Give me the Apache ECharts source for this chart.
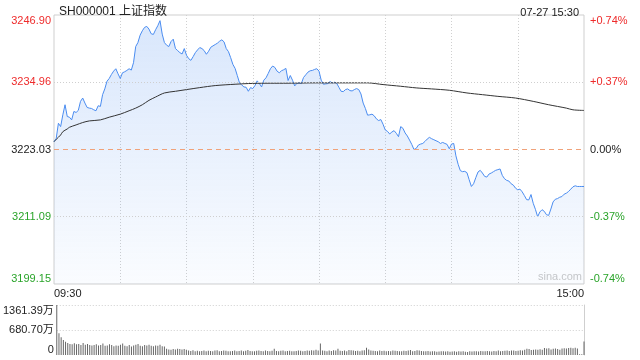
<!DOCTYPE html>
<html><head><meta charset="utf-8">
<script src="https://cdn.jsdelivr.net/npm/echarts@6/dist/echarts.min.js"></script>
<style>html,body{margin:0;padding:0;background:#fff}#c{width:640px;height:360px}</style>
</head><body><div id="c"></div>
<script>
const titleText = 'SH000001 上证指数';
const dateText = '07-27 15:30';
const prevClose = 3223.03;
const priceTicks = [3199.15, 3211.09, 3223.03, 3234.96, 3246.90];
const volTicks = [0, 680.70, 1361.39];
// minute categories 09:30-11:30, 13:01-15:00
const times = [];
(function(){
  function f(m){const h=Math.floor(m/60),mm=m%60;return (h<10?'0':'')+h+':'+(mm<10?'0':'')+mm;}
  for(let m=570;m<=690;m++) times.push(f(m));
  for(let m=781;m<=900;m++) times.push(f(m));
})();
const prices = [
3224.40,3225.00,3227.69,3227.09,3229.18,3230.97,3228.88,3228.76,3228.28,3229.78,
3229.60,3229.96,3231.57,3232.16,3231.27,3230.49,3230.37,3230.31,3230.07,3229.90,
3230.79,3230.67,3232.76,3233.78,3235.15,3235.63,3236.34,3236.94,3237.36,3236.46,
3235.63,3236.64,3236.82,3237.06,3237.36,3237.12,3238.43,3241.30,3242.01,3243.33,
3244.10,3244.70,3244.88,3244.40,3243.57,3243.45,3244.28,3245.00,3245.90,3243.51,
3242.01,3241.54,3241.30,3242.19,3242.61,3240.94,3240.58,3240.22,3239.98,3240.94,
3239.75,3239.15,3238.85,3239.51,3240.22,3240.70,3241.12,3240.94,3240.58,3239.93,
3240.46,3241.18,3241.42,3241.66,3241.90,3242.25,3242.49,3242.13,3240.94,3240.40,
3239.33,3238.13,3237.42,3236.16,3234.85,3234.49,3234.13,3234.07,3233.36,3234.01,
3233.84,3234.37,3235.21,3234.73,3234.13,3235.33,3235.75,3236.52,3237.36,3237.84,
3237.60,3236.94,3236.64,3237.00,3237.18,3237.42,3235.27,3236.16,3235.33,3234.31,
3234.79,3234.85,3234.73,3235.81,3236.28,3236.76,3237.00,3237.06,3237.24,3237.36,
3236.94,3235.33,3234.61,3234.67,3234.73,3235.09,3234.85,3234.97,3234.79,3234.07,
3233.36,3233.30,3233.66,3233.78,3233.48,3233.42,3233.66,3233.84,3233.66,3232.88,
3231.27,3230.31,3229.12,3229.18,3229.30,3229.00,3228.46,3228.16,3228.34,3227.51,
3226.49,3226.25,3225.78,3226.13,3226.37,3225.90,3225.30,3227.09,3226.79,3225.96,
3225.42,3224.70,3223.93,3223.03,3223.21,3223.81,3223.99,3224.10,3224.46,3224.88,
3225.18,3224.94,3224.76,3224.58,3224.40,3224.10,3224.28,3224.10,3223.93,3223.15,
3223.99,3224.10,3221.90,3220.40,3219.27,3219.09,3219.15,3218.91,3217.66,3216.46,
3216.94,3218.02,3219.03,3219.33,3218.85,3218.25,3218.13,3218.67,3218.85,3219.09,
3219.33,3219.45,3219.57,3218.43,3217.84,3217.54,3217.42,3216.94,3216.70,3216.16,
3215.87,3215.99,3215.51,3214.85,3214.13,3214.07,3215.03,3213.48,3212.40,3211.09,
3211.93,3212.34,3212.05,3211.45,3211.33,3212.46,3213.72,3214.19,3214.31,3214.55,
3214.67,3215.09,3215.27,3215.57,3215.99,3216.40,3216.58,3216.46,3216.46,3216.46,3216.46
];
const avgIdx = [0,1,3,4,6,7,10,13,16,21,25,30,34,37,40,43,46,50,55,60,66,73,82,88,96,104,119,134,142,149,157,164,171,179,187,194,201,209,217,224,232,235,240];
const avgVal = [3224.40,3224.82,3225.60,3226.19,3226.67,3226.97,3227.39,3227.81,3228.10,3228.28,
3228.76,3229.30,3229.90,3230.37,3230.97,3231.75,3232.34,3233.06,3233.36,3233.66,
3234.01,3234.37,3234.61,3234.73,3234.79,3234.79,3234.85,3234.85,3234.85,3234.55,
3234.25,3233.96,3233.78,3233.54,3233.06,3232.76,3232.46,3232.16,3231.57,3230.97,
3230.37,3230.07,3229.96];
const volumes = [
1361.39,590,480,410,360,330,300,290,320,290,
300,270,330,280,300,270,260,270,290,260,
270,310,250,260,290,270,240,260,250,280,
310,250,240,270,230,260,280,300,250,240,
270,260,280,250,240,260,250,280,240,230,
170,150,140,160,150,170,160,150,165,140,
120,110,130,105,115,100,110,120,105,115,
110,100,125,130,105,110,120,115,100,105,
110,125,100,110,120,105,115,136,110,105,
100,115,120,110,105,125,110,100,115,172,
110,105,115,120,100,110,115,105,100,110,
120,115,105,110,125,115,130,120,140,125,310,
120,115,105,125,110,130,120,172,115,110,
120,105,136,130,120,110,115,105,120,
130,200,150,120,115,110,105,120,110,115,
100,110,105,120,115,110,100,105,115,110,
120,136,105,110,130,125,110,105,100,110,
95,100,105,90,95,100,105,95,100,90,
95,100,90,105,95,100,90,85,100,95,
105,100,95,110,100,105,110,100,95,110,
100,120,105,110,115,120,110,125,120,110,
115,130,120,140,170,165,135,145,150,140,
155,145,190,180,185,150,170,175,160,145,
180,185,175,190,200,185,195,180,20,20,370
];

const UP = '#ee2b2b', DOWN = '#2aa42a', FLAT = '#222';
const FONT = 'Arial, "Liberation Sans", "Noto Sans CJK SC", sans-serif';
function colorFor(v){ const d = Math.round((v - prevClose)*100); return d>0?UP:(d<0?DOWN:FLAT); }

const chart = echarts.init(document.getElementById('c'), null, {renderer:'canvas'});
chart.setOption({
  animation:false,
  textStyle:{fontFamily:FONT},
  title:[
    {text:titleText,left:54,top:1,textStyle:{fontSize:12,fontWeight:'normal',color:'#222',fontFamily:FONT}},
    {text:dateText,right:56,top:2,textStyle:{fontSize:11,fontWeight:'normal',color:'#222',fontFamily:FONT}}
  ],
  graphic:[{type:'text',right:58,top:271,style:{text:'sina.com',fill:'#c8c8c8',font:'11px '+FONT}}],
  grid:[
    {left:54,right:56,top:15,height:269,show:true,borderColor:'#cfcfcf',borderWidth:1},
    {left:54,right:56,top:305,height:50,show:false}
  ],
  xAxis:[
    {type:'category',gridIndex:0,data:times,boundaryGap:false,
     axisLine:{show:false},axisTick:{show:false},
     splitLine:{show:true,interval:function(i){return i%30===0&&i>0&&i<240;},lineStyle:{color:'#d0d0d0',type:[1,2]}},
     axisLabel:{show:true,interval:function(i){return i===0||i===240;},fontSize:11,color:'#222',margin:4,
       alignMinLabel:'left',alignMaxLabel:'right',fontFamily:FONT}},
    {type:'category',gridIndex:1,data:times,boundaryGap:false,
     axisLine:{show:false},axisTick:{show:false},splitLine:{show:false},axisLabel:{show:false}}
  ],
  yAxis:[
    {type:'value',gridIndex:0,min:3199.15,max:3246.90,position:'left',scale:true,
     axisLine:{show:false},axisTick:{show:false},splitLine:{show:false},
     axisLabel:{customValues:priceTicks,fontSize:11,margin:3,fontFamily:FONT,
       formatter:function(v){return v.toFixed(2);},color:function(v){return colorFor(+v);},
       verticalAlignMinLabel:'bottom',verticalAlignMaxLabel:'top'}},
    {type:'value',gridIndex:0,min:3199.15,max:3246.90,position:'right',scale:true,
     axisLine:{show:false},axisTick:{show:false},splitLine:{show:false},
     axisLabel:{customValues:priceTicks,fontSize:11,margin:6,fontFamily:FONT,
       formatter:function(v){const p=(v-prevClose)/prevClose*100;const s=p.toFixed(2);return (p>0.004?'+':'')+(s==='-0.00'?'0.00':s)+'%';},
       color:function(v){return colorFor(+v);},
       verticalAlignMinLabel:'bottom',verticalAlignMaxLabel:'top'}},
    {type:'value',gridIndex:1,min:0,max:1361.39,interval:680.695,position:'left',
     axisLine:{show:false},axisTick:{show:false},
     splitLine:{show:true,showMinLine:false,lineStyle:{color:'#cfcfcf',type:[1,2]}},
     axisLabel:{customValues:volTicks,fontSize:11,margin:3,color:'#222',fontFamily:FONT,
       formatter:function(v){return v===0?'0':v.toFixed(2)+'万';},
       verticalAlignMinLabel:'bottom',verticalAlignMaxLabel:'top'}},
    {type:'value',gridIndex:1,min:0,max:1361.39,position:'right',
     axisLine:{show:true,lineStyle:{color:'#cfcfcf'}},axisTick:{show:false},splitLine:{show:false},axisLabel:{show:false}}
  ],
  series:[
    {type:'line',xAxisIndex:0,yAxisIndex:0,data:prices,symbol:'none',
     lineStyle:{color:'#4a8cf0',width:1},
     areaStyle:{origin:'start',color:new echarts.graphic.LinearGradient(0,0,0,1,[
       {offset:0,color:'rgba(74,140,240,0.30)'},{offset:1,color:'rgba(74,140,240,0.04)'}])},
     markLine:{silent:true,symbol:'none',label:{show:false},
       data:[
         {yAxis:3234.96,lineStyle:{color:'#cfcfcf',type:[1,2],width:1}},
         {yAxis:3211.09,lineStyle:{color:'#cfcfcf',type:[1,2],width:1}},
         {yAxis:prevClose,lineStyle:{color:'#f0a27a',type:[5,4],width:1}}
       ]}},
    {type:'line',xAxisIndex:0,yAxisIndex:0,data:avgIdx.map((x,k)=>[x,avgVal[k]]),symbol:'none',smooth:0.3,
     lineStyle:{color:'#333',width:1}},
    {type:'bar',xAxisIndex:1,yAxisIndex:2,data:volumes,barWidth:1,itemStyle:{color:'#666'}}
  ]
});
</script>
</body></html>
